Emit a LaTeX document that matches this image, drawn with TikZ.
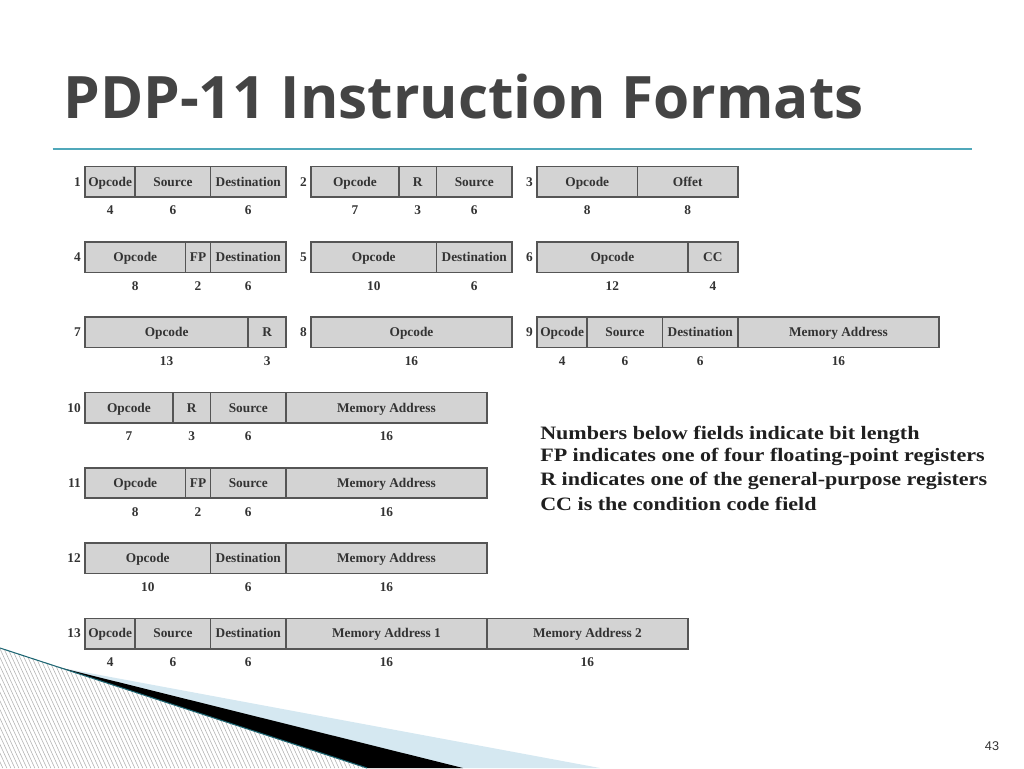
\documentclass[tikz,border=0pt]{standalone}
\usepackage{fontspec}
\setmainfont{Liberation Serif}
\newfontfamily\titlefont{Open Sans}
\newfontfamily\pagefont{Liberation Sans}
\newfontfamily\legendfont{Liberation Serif}[FakeStretch=1.165]
\usetikzlibrary{positioning,calc}
\definecolor{titlegray}{HTML}{444444}
\definecolor{rulecol}{RGB}{80,168,186}
\definecolor{boxline}{HTML}{555555}
\definecolor{boxfill}{RGB}{211,211,211}
\definecolor{fieldtext}{HTML}{333333}
\definecolor{wedgeblue}{HTML}{D5E8F1}
\definecolor{wedgeteal}{HTML}{1D6673}
\definecolor{hatchgray}{HTML}{B4B4B4}

\tikzset{
	field/.style={draw=boxline, fill=boxfill, line width=1.2pt, minimum height=22.9pt,
		text height=6.6pt, text depth=0pt,
		inner sep=0, outer sep=0, text=fieldtext, font=\bfseries\fontsize{10}{12}\selectfont},
	bitlen/.style={inner sep=0, text=fieldtext, font=\bfseries\fontsize{10}{12}\selectfont},
	rowno/.style={bitlen},
	legend/.style={anchor=base west, inner sep=0, text=black!88, font=\legendfont\bfseries\fontsize{14.2}{17}\selectfont}
}

% one instruction format: number, x, y (top left, px), list of field/bits
\newcommand{\insformat}[4]{%
	\foreach \fname/\nbits [count=\i] in {#4} {
		\ifnum\i=1
			\node[field, minimum width=\nbits*9.42pt, anchor=north west] (f#1-\i) at (#2,#3) {\fname};
		\else
			\pgfmathtruncatemacro{\j}{\i-1}
			\node[field, minimum width=\nbits*9.42pt, right=0pt of f#1-\j] (f#1-\i) {\fname};
		\fi
		\node[bitlen, below=6.5pt of f#1-\i] (b#1-\i) {\nbits};
	}
	\node[rowno, left=3pt of f#1-1] (n#1) {#1};
}

\begin{document}
\begin{tikzpicture}[x=0.75pt, y=-0.75pt]
	\useasboundingbox (0,0) rectangle (1024,768);

	% title and rule
	\node[anchor=base west, inner sep=0, text=titlegray, font=\titlefont\bfseries\fontsize{43.9}{52}\selectfont] (title) at (63,118.3) {PDP-11 Instruction Formats};
	\coordinate (ruleL) at (52.5,149.3);
	\coordinate (ruleR) at (971.5,149.3);
	\draw[rulecol, line width=1.3pt] (ruleL) -- (ruleR);

	% bottom left decoration
	\begin{scope}
		\clip (0,648) -- (367,768) -- (0,768) -- cycle;
		\foreach \k in {-320,-316,...,380}
			\draw[hatchgray, line width=0.45pt] (\k,640) -- ++(62,135);
	\end{scope}
	\fill[wedgeblue] (60,667.6) -- (600,768) -- (440,768) -- cycle;
	\fill[black] (60,667.6) -- (463,768) -- (367,768) -- cycle;
	\draw[wedgeteal, line width=0.8pt] (0,648) -- (367,768);

	% the formats
	\insformat{1}{85}{166.5}{Opcode/4, Source/6, Destination/6}
	\insformat{2}{311}{166.5}{Opcode/7, R/3, Source/6}
	\insformat{3}{537}{166.5}{Opcode/8, Offet/8}
	\insformat{4}{85}{241.8}{Opcode/8, FP/2, Destination/6}
	\insformat{5}{311}{241.8}{Opcode/10, Destination/6}
	\insformat{6}{537}{241.8}{Opcode/12, CC/4}
	\insformat{7}{85}{317.1}{Opcode/13, R/3}
	\insformat{8}{311}{317.1}{Opcode/16}
	\insformat{9}{537}{317.1}{Opcode/4, Source/6, Destination/6, Memory Address/16}
	\insformat{10}{85}{392.4}{Opcode/7, R/3, Source/6, Memory Address/16}
	\insformat{11}{85}{467.7}{Opcode/8, FP/2, Source/6, Memory Address/16}
	\insformat{12}{85}{543}{Opcode/10, Destination/6, Memory Address/16}
	\insformat{13}{85}{618.3}{Opcode/4, Source/6, Destination/6, Memory Address 1/16, Memory Address 2/16}

	% legend
	\node[legend] (leg1) at (540,439) {Numbers below fields indicate bit length};
	\node[legend] (leg2) at (540,461.7) {FP indicates one of four floating-point registers};
	\node[legend] (leg3) at (540,485.7) {R indicates one of the general-purpose registers};
	\node[legend] (leg4) at (540,510) {CC is the condition code field};

	\node[inner sep=0, text=black!80, font=\pagefont\fontsize{9.5}{11}\selectfont] (page) at (992,746) {43};
\end{tikzpicture}
\end{document}
